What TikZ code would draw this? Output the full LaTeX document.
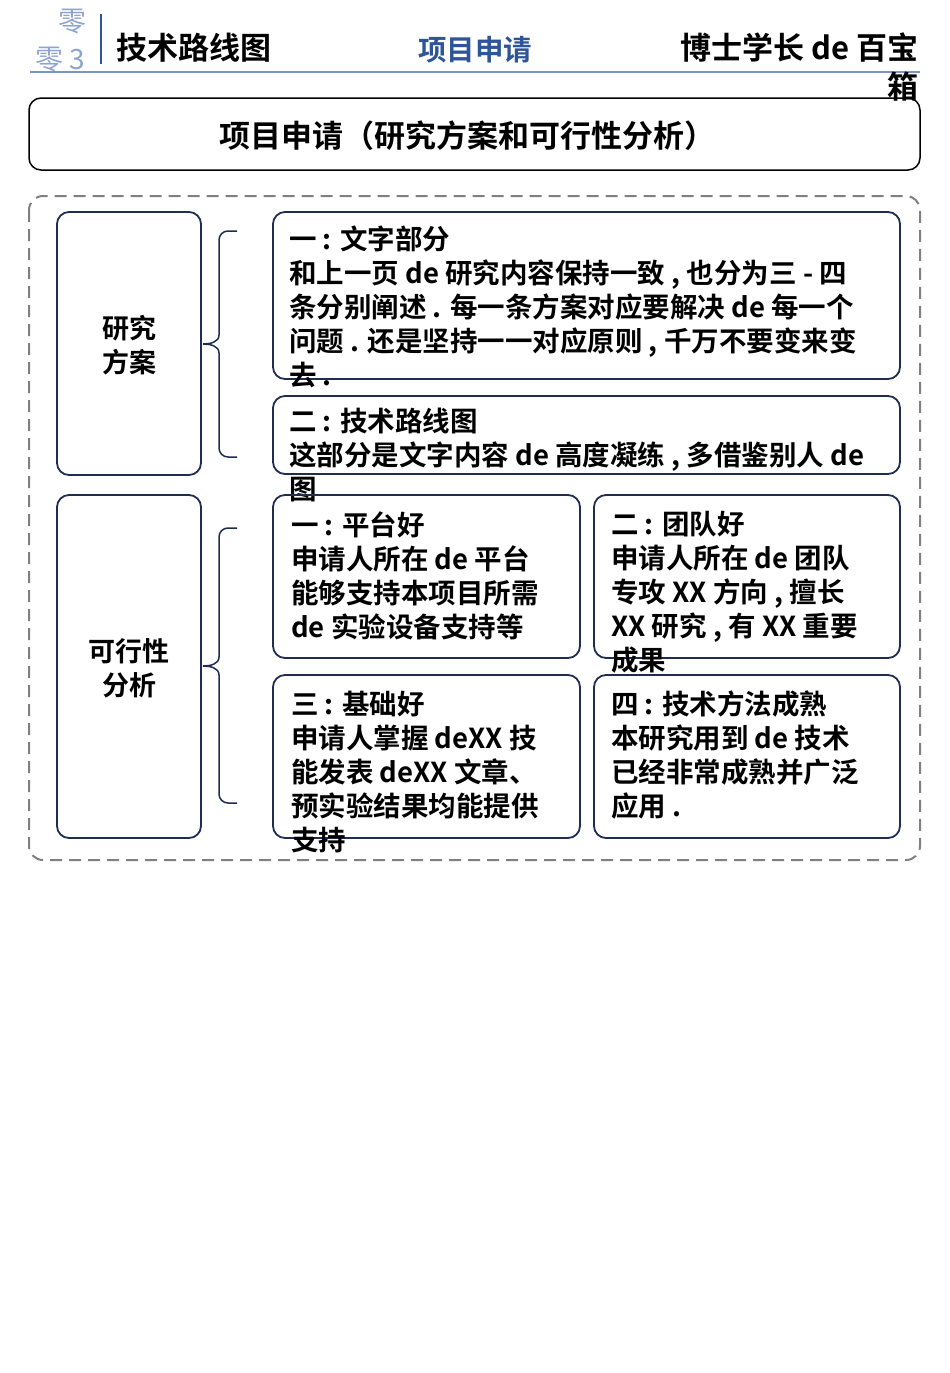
\documentclass[tikz,border=0pt]{standalone}
\usepackage{fontspec}
\setmainfont{Noto Sans CJK SC}[BoldFont={* Bold}]
\definecolor{navy}{HTML}{1F2D50}
\definecolor{hblue}{HTML}{2E5597}
\definecolor{lblue}{HTML}{8FA3D0}
\begin{document}
\begin{tikzpicture}[x=1pt,y=-1pt,
 box/.style={draw=navy,line width=1.8pt,rounded corners=12pt},
 txt/.style={anchor=north west,align=left,inner sep=0pt,font=\bfseries\fontsize{27.5}{34}\selectfont},
 brace/.style={draw=navy,line width=1.5pt}]
\useasboundingbox (0,0) rectangle (950,1373);
% header
\node (z1) [text=lblue,font=\fontsize{28}{28}\selectfont] at (72,22) {零};
\node (z2) [text=lblue,font=\fontsize{28}{28}\selectfont] at (60,60) {零 3};
\draw[hblue,line width=2pt] (101,14) -- (101,64);
\draw[lblue!80!hblue,line width=2pt] (30,72) -- (920,72);
\node (h1) [anchor=west,font=\bfseries\fontsize{31}{31}\selectfont] at (113,48) {技术路线图};
\node (h2) [text=hblue,font=\bfseries\fontsize{28.5}{28}\selectfont] at (475,50) {项目申请};
\node (h3) [anchor=east,font=\bfseries\fontsize{31}{31}\selectfont] at (922,48) {博士学长 de 百宝};
\node (h4) [anchor=east,font=\bfseries\fontsize{31}{31}\selectfont] at (922,87) {箱};
% title
\draw[line width=1.5pt,rounded corners=12pt] (29,98) rectangle (920,170);
\node (t) [font=\bfseries\fontsize{31}{31}\selectfont] at (467,136) {项目申请（研究方案和可行性分析）};
% dashed
\draw[gray,dashed,line width=2pt,dash pattern=on 12pt off 7pt,rounded corners=14pt] (29,196) rectangle (920,860);
% left boxes
\draw[box] (57,212) rectangle (201,475);
\node (l1) [align=center,font=\bfseries\fontsize{27}{34}\selectfont] at (129,345) {研究\\方案};
\draw[box] (57,495) rectangle (201,838);
\node (l2) [align=center,font=\bfseries\fontsize{27}{34}\selectfont] at (129,668) {可行性\\分析};
% braces
\draw[brace] (237,231) -- (228,231) to[out=180,in=90] (219,240) -- (219,335) to[out=-90,in=0] (203,344);
\draw[brace] (203,344) to[out=0,in=90] (219,353) -- (219,448) to[out=-90,in=180] (228,457) -- (237,457);
\draw[brace] (237,528) -- (228,528) to[out=180,in=90] (219,537) -- (219,657) to[out=-90,in=0] (203,666);
\draw[brace] (203,666) to[out=0,in=90] (219,675) -- (219,794) to[out=-90,in=180] (228,803) -- (237,803);
% right boxes
\draw[box] (273,212) rectangle (900,379);
\node (a) [txt] at (289,226) {一 : 文字部分\\和上一页 de 研究内容保持一致 , 也分为三 - 四\\条分别阐述 . 每一条方案对应要解决 de 每一个\\问题 . 还是坚持一一对应原则 , 千万不要变来变\\去 .};
\draw[box] (273,396) rectangle (900,474);
\node (b) [txt] at (289,408) {二 : 技术路线图\\这部分是文字内容 de 高度凝练 , 多借鉴别人 de\\图};
\draw[box] (273,495) rectangle (580,658);
\node (c) [txt] at (291,511) {一 : 平台好\\申请人所在 de 平台\\能够支持本项目所需\\de 实验设备支持等};
\draw[box] (594,495) rectangle (900,658);
\node (d) [txt] at (611,511) {二 : 团队好\\申请人所在 de 团队\\专攻 XX 方向 , 擅长\\XX 研究 , 有 XX 重要\\成果};
\draw[box] (273,675) rectangle (580,838);
\node (e) [txt] at (291,691) {三 : 基础好\\申请人掌握 deXX 技\\能发表 deXX 文章、\\预实验结果均能提供\\支持};
\draw[box] (594,675) rectangle (900,838);
\node (f) [txt] at (611,691) {四 : 技术方法成熟\\本研究用到 de 技术\\已经非常成熟并广泛\\应用 .};
\end{tikzpicture}
\end{document}
